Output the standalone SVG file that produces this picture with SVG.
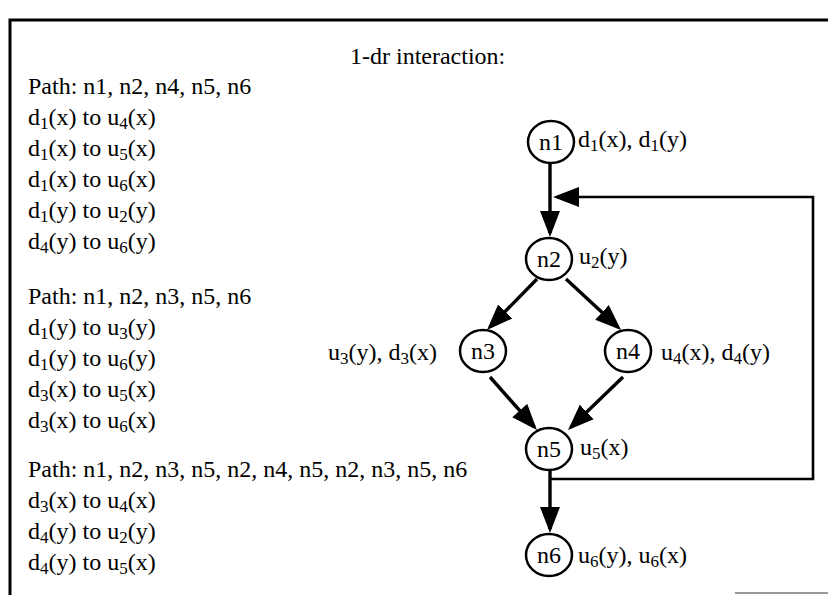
<svg xmlns="http://www.w3.org/2000/svg" width="828" height="595" viewBox="0 0 828 595">
<style>
text{font-family:"Liberation Serif","Times New Roman",serif;font-size:24px;fill:#000}
.s{font-size:17px}
.node ellipse{fill:#fff;stroke:#000;stroke-width:2.5}
.node .nl{text-anchor:middle}
.edge{fill:none;stroke:#000;stroke-width:3.4;marker-end:url(#ah)}
</style>
<defs>
<marker id="ah" markerUnits="userSpaceOnUse" markerWidth="26" markerHeight="22" viewBox="0 0 26 22" refX="22" refY="11" orient="auto">
<path d="M0,1 L26,11 L0,21 z" fill="#000"/>
</marker>
</defs>
<rect width="828" height="595" fill="#fff"/>
<path d="M10,595 V20 H828" fill="none" stroke="#000" stroke-width="3"/>
<line x1="735" y1="593" x2="828" y2="593" stroke="#999" stroke-width="2"/>

<text x="350" y="64">1-dr interaction:</text>

<g id="block1">
<text x="28" y="94">Path: n1, n2, n4, n5, n6</text>
<text x="28" y="125">d<tspan class="s" dy="4">1</tspan><tspan dy="-4">(x) to u</tspan><tspan class="s" dy="4">4</tspan><tspan dy="-4">(x)</tspan></text>
<text x="28" y="156">d<tspan class="s" dy="4">1</tspan><tspan dy="-4">(x) to u</tspan><tspan class="s" dy="4">5</tspan><tspan dy="-4">(x)</tspan></text>
<text x="28" y="187">d<tspan class="s" dy="4">1</tspan><tspan dy="-4">(x) to u</tspan><tspan class="s" dy="4">6</tspan><tspan dy="-4">(x)</tspan></text>
<text x="28" y="218">d<tspan class="s" dy="4">1</tspan><tspan dy="-4">(y) to u</tspan><tspan class="s" dy="4">2</tspan><tspan dy="-4">(y)</tspan></text>
<text x="28" y="249">d<tspan class="s" dy="4">4</tspan><tspan dy="-4">(y) to u</tspan><tspan class="s" dy="4">6</tspan><tspan dy="-4">(y)</tspan></text>
</g>

<g id="block2">
<text x="28" y="304">Path: n1, n2, n3, n5, n6</text>
<text x="28" y="335">d<tspan class="s" dy="4">1</tspan><tspan dy="-4">(y) to u</tspan><tspan class="s" dy="4">3</tspan><tspan dy="-4">(y)</tspan></text>
<text x="28" y="366">d<tspan class="s" dy="4">1</tspan><tspan dy="-4">(y) to u</tspan><tspan class="s" dy="4">6</tspan><tspan dy="-4">(y)</tspan></text>
<text x="28" y="397">d<tspan class="s" dy="4">3</tspan><tspan dy="-4">(x) to u</tspan><tspan class="s" dy="4">5</tspan><tspan dy="-4">(x)</tspan></text>
<text x="28" y="428">d<tspan class="s" dy="4">3</tspan><tspan dy="-4">(x) to u</tspan><tspan class="s" dy="4">6</tspan><tspan dy="-4">(x)</tspan></text>
</g>

<g id="block3">
<text x="28" y="477">Path: n1, n2, n3, n5, n2, n4, n5, n2, n3, n5, n6</text>
<text x="28" y="508">d<tspan class="s" dy="4">3</tspan><tspan dy="-4">(x) to u</tspan><tspan class="s" dy="4">4</tspan><tspan dy="-4">(x)</tspan></text>
<text x="28" y="539">d<tspan class="s" dy="4">4</tspan><tspan dy="-4">(y) to u</tspan><tspan class="s" dy="4">2</tspan><tspan dy="-4">(y)</tspan></text>
<text x="28" y="570">d<tspan class="s" dy="4">4</tspan><tspan dy="-4">(y) to u</tspan><tspan class="s" dy="4">5</tspan><tspan dy="-4">(x)</tspan></text>
</g>

<g id="connectors">
<path class="edge" d="M550,164 L550,233"/>
<path class="edge" style="stroke-width:2.6" d="M550,479 H813 V197 H557"/>
<path class="edge" d="M537,279 L489.8,327.1"/>
<path class="edge" d="M566,279 L618.1,327.3"/>
<path class="edge" d="M490,377 L534.3,427"/>
<path class="edge" d="M623,377 L570.9,427.2"/>
<path class="edge" d="M550,470 L550,529"/>
</g>

<g id="n1" class="node">
<ellipse cx="551" cy="142" rx="23" ry="21"/>
<text class="nl" x="551" y="150">n1</text>
<text x="578" y="147">d<tspan class="s" dy="4">1</tspan><tspan dy="-4">(x), d</tspan><tspan class="s" dy="4">1</tspan><tspan dy="-4">(y)</tspan></text>
</g>
<g id="n2" class="node">
<ellipse cx="549" cy="259" rx="23" ry="21"/>
<text class="nl" x="549" y="267">n2</text>
<text x="579" y="264">u<tspan class="s" dy="4">2</tspan><tspan dy="-4">(y)</tspan></text>
</g>
<g id="n3" class="node">
<ellipse cx="483" cy="351" rx="23" ry="21"/>
<text class="nl" x="483" y="359">n3</text>
<text x="437" y="360" text-anchor="end">u<tspan class="s" dy="4">3</tspan><tspan dy="-4">(y), d</tspan><tspan class="s" dy="4">3</tspan><tspan dy="-4">(x)</tspan></text>
</g>
<g id="n4" class="node">
<ellipse cx="628" cy="351" rx="23" ry="21"/>
<text class="nl" x="628" y="359">n4</text>
<text x="661" y="360">u<tspan class="s" dy="4">4</tspan><tspan dy="-4">(x), d</tspan><tspan class="s" dy="4">4</tspan><tspan dy="-4">(y)</tspan></text>
</g>
<g id="n5" class="node">
<ellipse cx="549" cy="449" rx="23" ry="21"/>
<text class="nl" x="549" y="457">n5</text>
<text x="580" y="455">u<tspan class="s" dy="4">5</tspan><tspan dy="-4">(x)</tspan></text>
</g>
<g id="n6" class="node">
<ellipse cx="549" cy="555" rx="23" ry="21"/>
<text class="nl" x="549" y="563">n6</text>
<text x="578" y="563">u<tspan class="s" dy="4">6</tspan><tspan dy="-4">(y), u</tspan><tspan class="s" dy="4">6</tspan><tspan dy="-4">(x)</tspan></text>
</g>
</svg>
